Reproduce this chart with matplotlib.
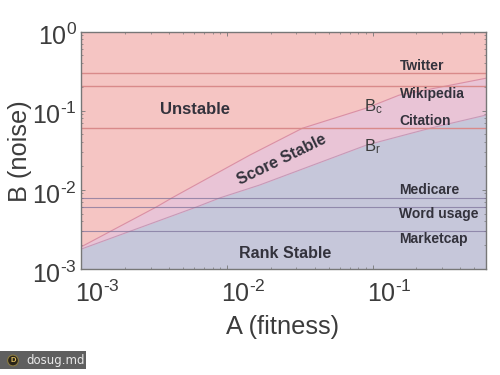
# Stability phase diagram: noise B against fitness A

import numpy as np
import matplotlib
matplotlib.use("Agg")
import matplotlib.pyplot as plt
from matplotlib.patches import Rectangle
from matplotlib.transforms import ScaledTranslation
from matplotlib.ticker import FuncFormatter, NullFormatter

plt.rcParams['font.family'] = ['Liberation Sans', 'DejaVu Sans']
plt.rcParams['mathtext.fontset'] = 'custom'
plt.rcParams['mathtext.rm'] = 'Liberation Sans'
plt.rcParams['mathtext.default'] = 'regular'

# Curves
bc_a = [0.001, 0.0033, 0.0042, 0.0144, 0.033, 0.091, 0.152, 0.6]
bc_b = [0.0019, 0.0061, 0.0079, 0.0275, 0.06, 0.108, 0.157, 0.257]
br_a = [0.001, 0.00624, 0.00895, 0.0168, 0.091, 0.257, 0.6]
br_b = [0.00178, 0.0061, 0.0079, 0.0115, 0.0368, 0.061, 0.088]

# Horizontal levels for each dataset
dataset_names = ["Twitter", "Wikipedia", "Citation", "Medicare", "Word usage", "Marketcap"]
dataset_levels = [0.30, 0.205, 0.061, 0.0079, 0.0061, 0.003]
dataset_label_y = [0.366, 0.162, 0.074, 0.00994, 0.00495, 0.00239]
dataset_label_x = 0.153

x_limits = [0.001, 0.6]
y_limits = [0.001, 1.0]
x_ticks = [0.001, 0.01, 0.1]
y_ticks = [0.001, 0.01, 0.1, 1.0]

text_grey = "#3c3c3c"
label_dark = "#33323c"


def power_label(v, p):
    # hyphen instead of the wide mathtext minus
    return "$10^{%s}$" % str(int(round(np.log10(v)))).replace("-", "\u2010")


fig = plt.figure(figsize=(5, 3.75), dpi=100)
ax = fig.add_axes([81/500, 1 - 269/375, 405/500, 237.5/375])
ax.set_xscale("log")
ax.set_yscale("log")
ax.set_xlim(x_limits)
ax.set_ylim(y_limits)

# Three regions
ax.set_facecolor("#f5c5c3")
ax.fill_between(bc_a, bc_b, y_limits[0], color="#e9c4d6", lw=0)
ax.fill_between(br_a, br_b, y_limits[0], color="#c6c7da", lw=0)
ax.plot(bc_a, bc_b, color="#d98fa6", lw=0.8)
ax.plot(br_a, br_b, color="#c79ab8", lw=0.8)

# Dataset levels, the line colour is darker over the blue part
for name, level, label_y in zip(dataset_names, dataset_levels, dataset_label_y):
    if level > 0.05:
        ax.axhline(level, color="#d98a8a", lw=1)
    else:
        ax.axhline(level, color="#7a6f98", lw=0.8, alpha=0.7)
    ax.text(dataset_label_x, label_y, name, fontsize=10, fontweight="bold", color=label_dark,
            va="center", ha="left")

# Region labels
ax.text(0.00604, 0.102, "Unstable", fontsize=12, fontweight="bold", color=label_dark,
        ha="center", va="center")
ax.text(0.0238, 0.0238, "Score Stable", fontsize=11.5, fontweight="bold", color=label_dark,
        ha="center", va="center", rotation=26)
ax.text(0.025, 0.00159, "Rank Stable", fontsize=11.5, fontweight="bold", color=label_dark,
        ha="center", va="center")
ax.text(0.088, 0.114, r"$B_c$", fontsize=12, color=text_grey, ha="left", va="center")
ax.text(0.088, 0.0347, r"$B_r$", fontsize=12, color=text_grey, ha="left", va="center")

# Axes and ticks
ax.xaxis.set_major_formatter(FuncFormatter(power_label))
ax.yaxis.set_major_formatter(FuncFormatter(power_label))
ax.xaxis.set_minor_formatter(NullFormatter())
ax.yaxis.set_minor_formatter(NullFormatter())
ax.set_xticks(x_ticks)
ax.set_yticks(y_ticks)
ax.tick_params(axis="both", which="major", direction="in", top=True, right=True,
               length=3, width=0.6, color="#777777", labelsize=18, labelcolor=text_grey)
ax.tick_params(axis="x", which="major", pad=8)
ax.tick_params(axis="y", which="major", pad=3)
ax.tick_params(axis="both", which="minor", direction="in", top=True, right=True,
               length=1.5, width=0.5, color="#777777")
for side in ax.spines.values():
    side.set_color("#777777")
    side.set_linewidth(1)

# x tick labels start just left of their tick, y tick labels sit a little low
shift = ScaledTranslation(-6/100, 0, fig.dpi_scale_trans)
for tick_label in ax.get_xticklabels():
    tick_label.set_ha("left")
    tick_label.set_transform(tick_label.get_transform() + shift)
shift_y = ScaledTranslation(0, -3/100, fig.dpi_scale_trans)
for tick_label in ax.get_yticklabels():
    tick_label.set_transform(tick_label.get_transform() + shift_y)

ax.set_xlabel("A (fitness)", fontsize=18.3, color=text_grey, va="center")
ax.xaxis.set_label_coords(0.4975, -0.244)
ax.set_ylabel("B (noise)", fontsize=18.3, color=text_grey, va="center")
ax.yaxis.set_label_coords(-0.15, 0.497)

# Watermark in the corner
fig.add_artist(Rectangle((0, 1 - 369/375), 86/500, 18/375, transform=fig.transFigure,
                         fc="#5f5f5f", ec="none"))
fig.text(26/500, 1 - 360.5/375, "dosug.md", fontsize=8.5, color="#e8e8e8", va="center", ha="left",
         family="DejaVu Sans")
fig.text(13/500, 1 - 360.5/375, "D", fontsize=5.5, fontweight="bold", color="#e0c060",
         va="center", ha="center",
         bbox=dict(boxstyle="circle,pad=0.25", fc="#2a2418", ec="#8a7a40", lw=0.8))

plt.savefig("out.png", dpi=100)
